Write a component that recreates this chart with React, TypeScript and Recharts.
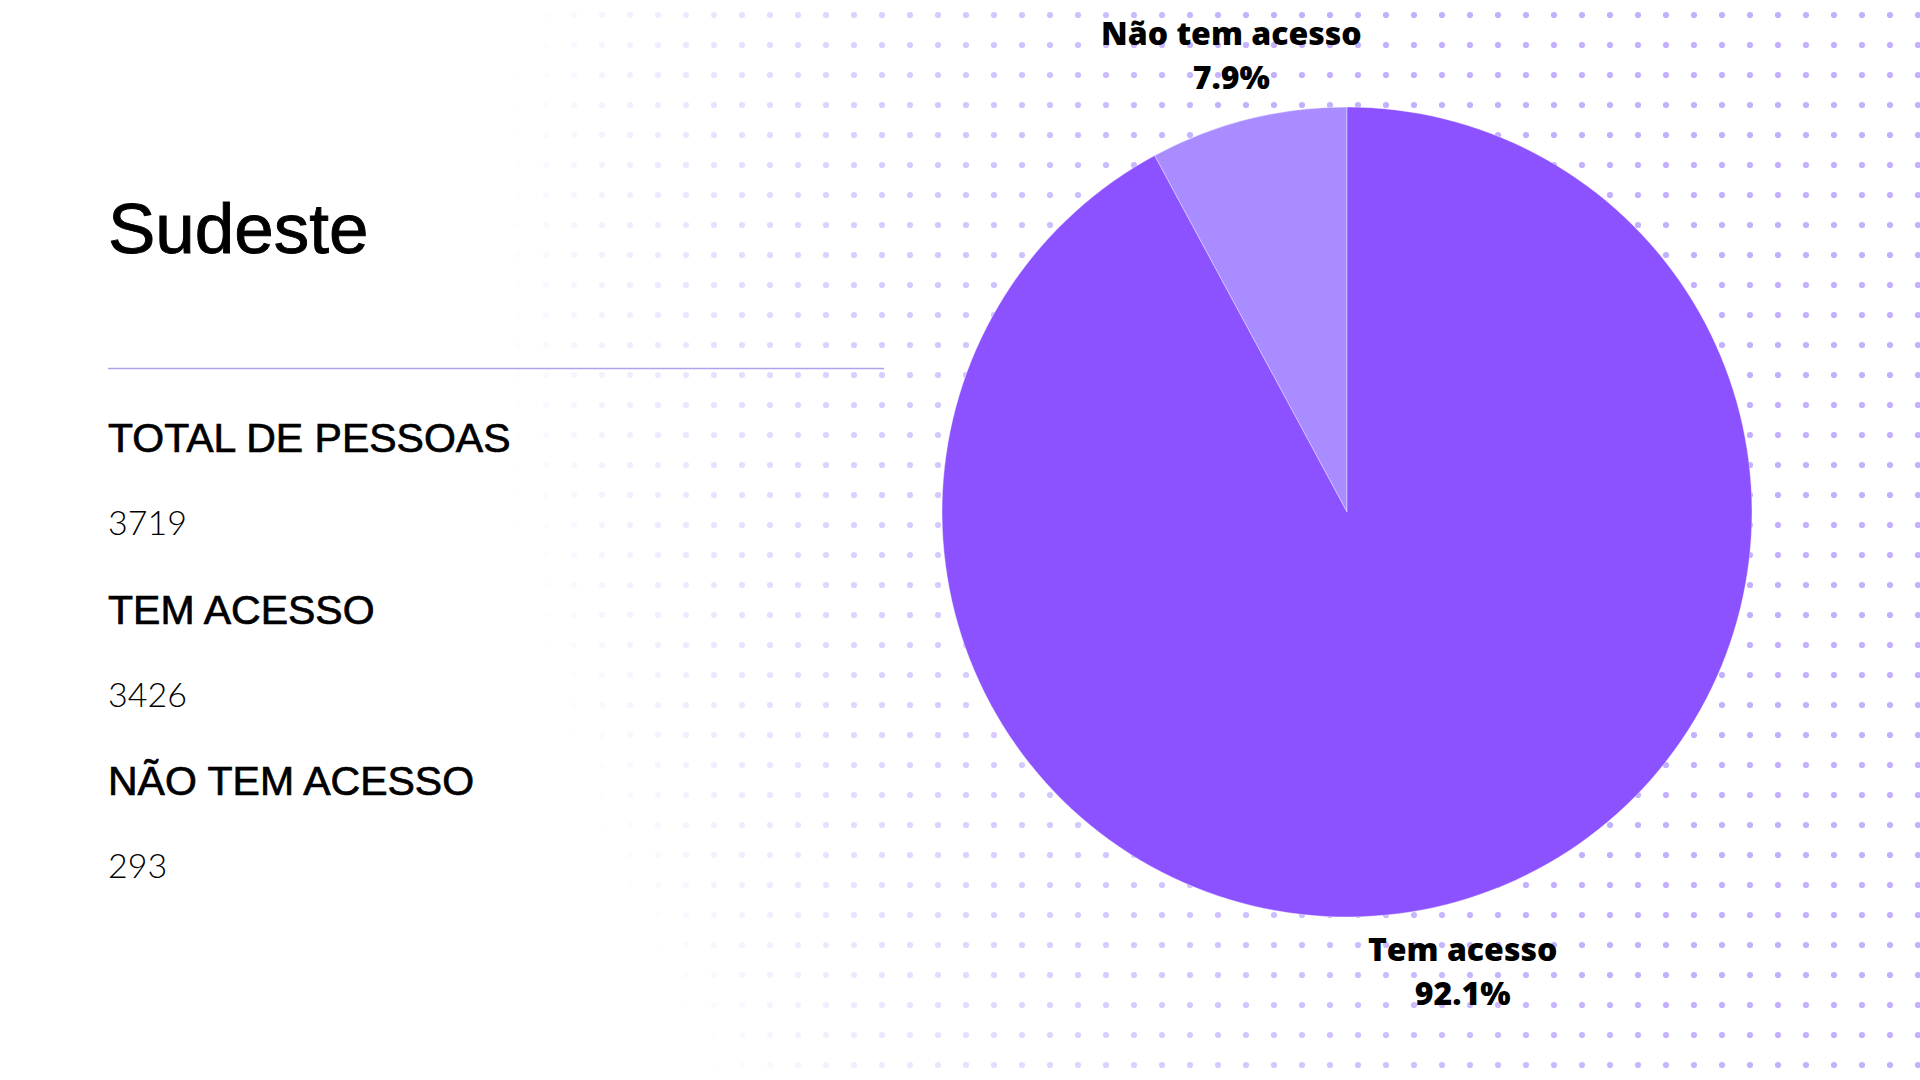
import { PieChart, Pie, Cell } from "recharts";

const categories = ["Não tem acesso", "Tem acesso"];
const counts = [293, 3426];
const sliceColors = ["#a98cff", "#8c52ff"];

const regionTitle = "Sudeste";
const summaryLabels = ["TOTAL DE PESSOAS", "TEM ACESSO", "NÃO TEM ACESSO"];
const summaryValues = [3719, 3426, 293];

const total = counts.reduce((a, b) => a + b, 0);
const data = categories.map((name, i) => ({ name, value: counts[i] }));

const RAD = Math.PI / 180;

function SliceLabel(props: any) {
  const { cx, cy, midAngle, outerRadius, name, value } = props;
  const r = outerRadius + 67;
  const x = cx + r * Math.cos(-midAngle * RAD);
  const y = cy + r * Math.sin(-midAngle * RAD);
  const pct = ((value / total) * 100).toFixed(1) + "%";
  return (
    <text
      x={x}
      y={y}
      textAnchor="middle"
      fontFamily="'Open Sans', 'Noto Sans', sans-serif"
      fontWeight={800}
      fontSize={32}
      fill="#000"
    >
      <tspan x={x} dy={-9}>{name}</tspan>
      <tspan x={x} dy={44}>{pct}</tspan>
    </text>
  );
}

function Backdrop() {
  return (
    <svg width={1920} height={1080} style={{ position: "absolute", left: 0, top: 0 }}>
      <defs>
        <pattern id="dots" width={28} height={30} patternUnits="userSpaceOnUse">
          <circle cx={14} cy={15} r={3.1} fill="#c3b0ff" />
        </pattern>
        <radialGradient id="fade" gradientUnits="userSpaceOnUse" cx={2000} cy={300} r={1550}>
          <stop offset="0.5" stopColor="#fff" stopOpacity={1} />
          <stop offset="0.75" stopColor="#fff" stopOpacity={0.6} />
          <stop offset="0.97" stopColor="#fff" stopOpacity={0} />
        </radialGradient>
        <mask id="dotMask">
          <rect x={0} y={0} width={1920} height={1080} fill="url(#fade)" />
        </mask>
      </defs>
      <rect x={0} y={0} width={1920} height={1080} fill="#fff" />
      <rect x={0} y={0} width={1920} height={1080} fill="url(#dots)" mask="url(#dotMask)" />
      <text
        x={108}
        y={253}
        fontFamily="'Liberation Sans', Arial, sans-serif"
        fontSize={71}
        fill="#000"
        stroke="#000"
        strokeWidth={0.9}
      >
        {regionTitle}
      </text>
      <line x1={108} x2={884} y1={368.5} y2={368.5} stroke="#aea2ee" strokeWidth={1.5} />
      {summaryLabels.map((label, i) => (
        <g key={label}>
          <text
            x={108}
            y={452 + i * 171.5}
            fontFamily="'Liberation Sans', Arial, sans-serif"
            fontSize={41}
            fill="#000"
            stroke="#000"
            strokeWidth={0.7}
          >
            {label}
          </text>
          <text
            x={108}
            y={535 + i * 171.5}
            fontFamily="Lato, Inter, sans-serif"
            fontWeight={300}
            fontSize={34}
            fill="#000"
          >
            {summaryValues[i]}
          </text>
        </g>
      ))}
    </svg>
  );
}

export default function App() {
  return (
    <div style={{ position: "absolute", left: 0, top: 0, width: 1920, height: 1080, overflow: "hidden" }}>
      <Backdrop />
      <div style={{ position: "absolute", left: 0, top: 0 }}>
        <PieChart width={1920} height={1080} margin={{ top: 0, right: 0, bottom: 0, left: 0 }}>
          <Pie
            data={data}
            dataKey="value"
            nameKey="name"
            cx={1347}
            cy={512}
            outerRadius={405}
            startAngle={90}
            endAngle={450}
            stroke="#ffffff"
            strokeOpacity={0.4}
            strokeWidth={1}
            label={SliceLabel}
            labelLine={false}
            isAnimationActive={false}
          >
            {data.map((d, i) => (
              <Cell key={d.name} fill={sliceColors[i]} />
            ))}
          </Pie>
        </PieChart>
      </div>
    </div>
  );
}
